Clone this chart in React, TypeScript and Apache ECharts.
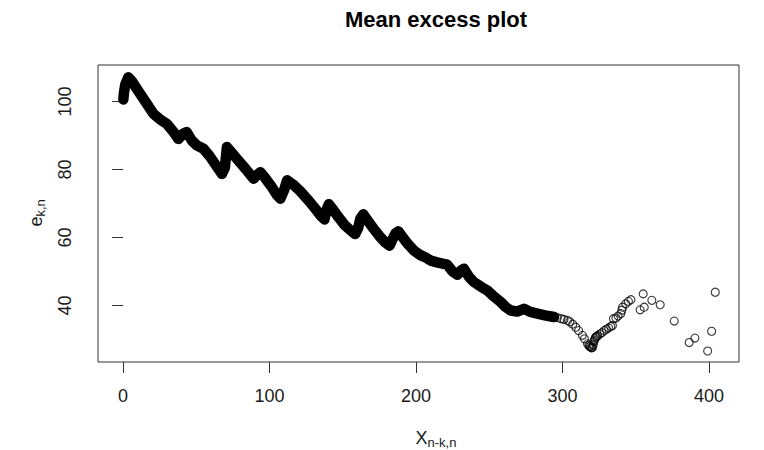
import React, { useEffect, useRef } from "react";
import * as echarts from "echarts";

// Dense part of the mean-excess curve (thresholds 0..294)
const bandX = [0.2, 0.6, 1.5, 3.6, 6, 9, 11.6, 16, 20.7, 26, 29.9, 34, 37.8, 41, 43.5, 47, 50.4, 54.9, 59, 63, 67.5, 69.5, 70.9, 74, 78.8, 84, 89.1, 91.5, 93.7, 97, 101, 105, 107.4, 110, 112, 116, 121, 126, 131, 135, 137.5, 139, 140.5, 143, 147, 151, 155, 158.5, 160.5, 162, 164, 167, 171, 175, 179, 182, 184, 186, 188, 191, 195, 199, 203, 207, 210, 215, 221.3, 225, 228.2, 230.5, 232.7, 236, 239.5, 244, 248.7, 253, 257.8, 261, 264.6, 269, 273.7, 278, 282.9, 288, 294.2];
const bandY = [100.6, 102.5, 105, 107.1, 106, 104, 102.3, 99.5, 96.4, 94.5, 93.4, 91.3, 89, 90.5, 91, 88.5, 87.1, 86.1, 84, 81.5, 78.7, 80.5, 86.6, 85, 82.6, 80, 77.3, 78.4, 79.2, 77.5, 75.2, 72.5, 71.4, 74, 76.8, 75.6, 73.6, 71.2, 68.6, 66.4, 65.3, 68.2, 69.8, 68.4, 66, 63.8, 62.2, 61, 62.8, 65.5, 66.8, 65, 62.6, 60.4, 58.5, 57.6, 59.5, 61.2, 61.8, 60, 57.8, 56, 54.8, 54, 53.2, 52.6, 52, 50, 49, 50.2, 50.8, 48.5, 46.9, 45.6, 44.4, 42.7, 41, 39.6, 38.5, 38.2, 39, 38.1, 37.6, 37.1, 36.6];

// Sparse part: individual open circles
const pointX = [296.5, 299, 301, 303.4, 305, 307, 309.1, 311, 313.6, 315, 317.1, 318, 318.5, 319, 319.5, 320, 320.5, 321, 321.5, 321.8, 322.2, 322.7, 323.4, 324, 325.5, 327, 328.4, 330, 331.5, 333, 334.1, 334.8, 336.5, 338, 339.8, 340.5, 341, 343.2, 345, 346.7, 353, 355.1, 355.8, 361, 366.7, 376.3, 386.5, 390.4, 399.1, 401.8, 404.3];
const pointY = [36.4, 36.1, 35.9, 35.6, 35.2, 34.5, 33.6, 32.6, 31.2, 30.2, 28.7, 28.3, 28, 27.9, 27.6, 27.5, 27.7, 28.4, 29.4, 29.8, 30.3, 30.7, 30.9, 31.1, 31.6, 32, 32.6, 33, 33.4, 33.8, 34.1, 36.1, 36.3, 36.9, 37.6, 38.6, 39.5, 40.5, 41.2, 41.7, 38.7, 43.4, 39.5, 41.5, 40.2, 35.4, 29.1, 30.4, 26.6, 32.4, 43.9];

const xTicks = [0, 100, 200, 300, 400];
const yTicks = [40, 60, 80, 100];

const FONT = '"Liberation Sans", Arial, Helvetica, sans-serif';

export default function App() {
  const ref = useRef<HTMLDivElement>(null);
  useEffect(() => {
    if (!ref.current) return;
    const chart = echarts.init(ref.current, null, { renderer: "svg" });
    const band = bandX.map((x, i) => [x, bandY[i]]);
    const pts = pointX.map((x, i) => [x, pointY[i]]);
    const txt = (text: string, x: number, y: number, size: number, rot: number) => ({
      type: "text",
      x,
      y,
      rotation: rot,
      style: {
        text,
        fontSize: size,
        fontFamily: FONT,
        fill: "#1a1a1a",
        align: "left",
        verticalAlign: "middle",
      },
    });
    chart.setOption({
      animation: false,
      backgroundColor: "#fff",
      grid: {
        left: 98,
        top: 65,
        bottom: 88,
        right: 25,
        show: true,
        borderColor: "#333",
        borderWidth: 1,
        backgroundColor: "transparent",
      },
      xAxis: {
        type: "value",
        min: -17.1,
        max: 420.5,
        axisLine: { show: false },
        splitLine: { show: false },
        axisTick: {
          show: true,
          inside: false,
          length: 11,
          customValues: xTicks,
          lineStyle: { color: "#333", width: 1 },
        },
        axisLabel: {
          customValues: xTicks,
          margin: 25,
          fontSize: 18,
          fontFamily: FONT,
          color: "#1a1a1a",
        },
      },
      yAxis: {
        type: "value",
        min: 23.36,
        max: 110.74,
        axisLine: { show: false },
        splitLine: { show: false },
        axisTick: {
          show: true,
          inside: false,
          length: 11,
          customValues: yTicks,
          lineStyle: { color: "#333", width: 1 },
        },
        axisLabel: {
          customValues: yTicks,
          rotate: 90,
          margin: 24,
          fontSize: 18,
          fontFamily: FONT,
          color: "#1a1a1a",
        },
      },
      graphic: [
        {
          type: "text",
          x: 436,
          y: 19,
          style: {
            text: "Mean excess plot",
            fontSize: 22,
            fontWeight: "bold",
            fontFamily: FONT,
            fill: "#000",
            align: "center",
            verticalAlign: "middle",
          },
        },
        txt("X", 415.5, 438, 18, 0),
        txt("n-k,n", 427.5, 442.5, 13, 0),
        txt("e", 36, 226.5, 18, Math.PI / 2),
        txt("k,n", 40.5, 216.5, 13, Math.PI / 2),
      ],
      series: [
        {
          type: "line",
          data: band,
          symbol: "none",
          smooth: false,
          lineStyle: { color: "#000", width: 10.5, cap: "round", join: "round" },
          silent: true,
          z: 2,
        },
        {
          type: "scatter",
          data: pts,
          symbol: "circle",
          symbolSize: 8,
          itemStyle: { color: "rgba(0,0,0,0)", borderColor: "#000", borderWidth: 1.1 },
          silent: true,
          z: 3,
        },
      ],
    });
    return () => chart.dispose();
  }, []);
  return (
    <div
      ref={ref}
      style={{ position: "absolute", left: 0, top: 0, width: 764, height: 450, background: "#fff" }}
    />
  );
}
